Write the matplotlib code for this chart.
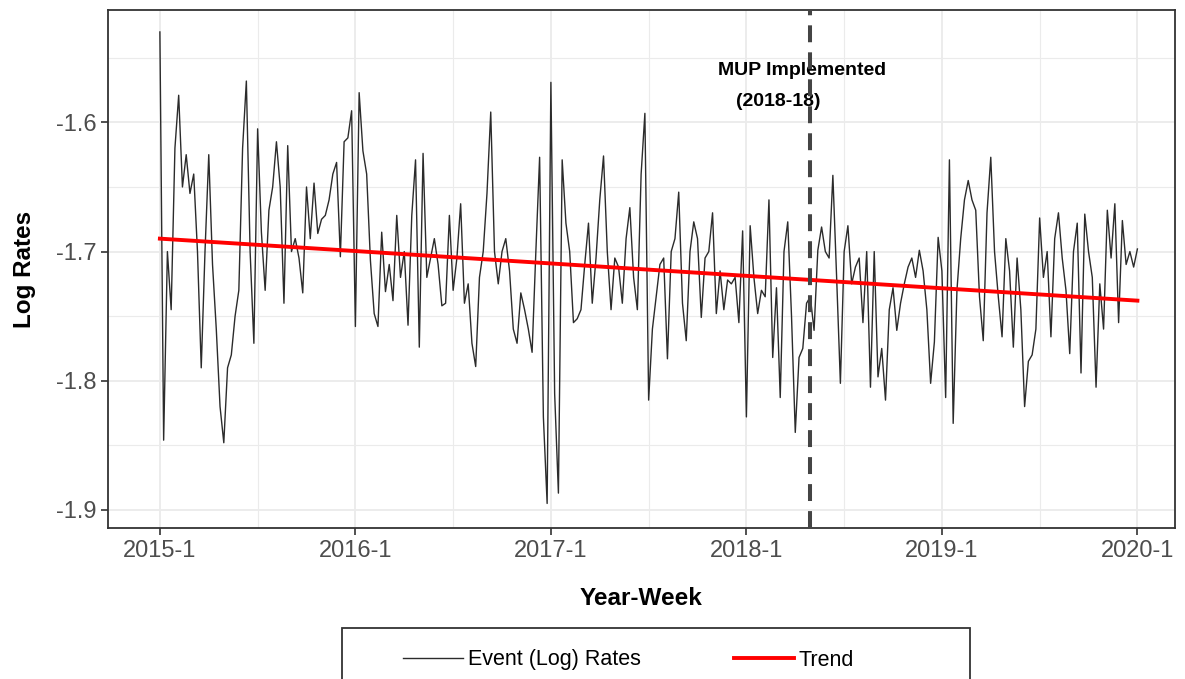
import matplotlib
matplotlib.use("Agg")
from matplotlib import pyplot as plt
from matplotlib.patches import Rectangle
import numpy as np

plt.rcParams['font.family'] = ['Liberation Sans', 'DejaVu Sans']
plt.rcParams['axes.unicode_minus'] = False

# weekly event log rates, 2015-1 .. 2020-1
rates_2015 = [
    -1.530, -1.846, -1.700, -1.745, -1.620, -1.579, -1.650, -1.625, -1.655, -1.640,
    -1.700, -1.790, -1.700, -1.625, -1.710, -1.760, -1.820, -1.848, -1.790, -1.780,
    -1.750, -1.730, -1.620, -1.568, -1.700, -1.771, -1.605, -1.685, -1.730, -1.668,
    -1.650, -1.615, -1.650, -1.740, -1.618, -1.700, -1.690, -1.705, -1.732, -1.650,
    -1.690, -1.647, -1.686, -1.675, -1.672, -1.660, -1.640, -1.631, -1.704, -1.615,
    -1.612, -1.591,
]
rates_2016 = [
    -1.758, -1.577, -1.622, -1.640, -1.707, -1.748, -1.758, -1.685, -1.731, -1.710,
    -1.738, -1.672, -1.720, -1.700, -1.757, -1.672, -1.629, -1.774, -1.624, -1.720,
    -1.705, -1.690, -1.710, -1.742, -1.740, -1.672, -1.730, -1.705, -1.663, -1.740,
    -1.725, -1.771, -1.789, -1.720, -1.700, -1.655, -1.592, -1.700, -1.725, -1.700,
    -1.690, -1.715, -1.760, -1.771, -1.732, -1.745, -1.760, -1.778, -1.700, -1.627,
    -1.828, -1.895,
]
rates_2017 = [
    -1.569, -1.810, -1.887, -1.629, -1.678, -1.700, -1.755, -1.752, -1.745, -1.710,
    -1.678, -1.740, -1.705, -1.660, -1.626, -1.700, -1.745, -1.705, -1.712, -1.740,
    -1.690, -1.666, -1.720, -1.745, -1.640, -1.593, -1.815, -1.760, -1.735, -1.710,
    -1.705, -1.783, -1.700, -1.690, -1.654, -1.740, -1.769, -1.700, -1.677, -1.690,
    -1.751, -1.705, -1.700, -1.670, -1.748, -1.715, -1.745, -1.722, -1.725, -1.720,
    -1.755, -1.684,
]
rates_2018 = [
    -1.828, -1.680, -1.720, -1.748, -1.730, -1.735, -1.660, -1.782, -1.728, -1.813,
    -1.700, -1.677, -1.750, -1.840, -1.782, -1.775, -1.740, -1.735, -1.761, -1.699,
    -1.681, -1.700, -1.705, -1.641, -1.720, -1.802, -1.700, -1.680, -1.725, -1.712,
    -1.705, -1.755, -1.700, -1.805, -1.700, -1.797, -1.775, -1.815, -1.745, -1.728,
    -1.761, -1.740, -1.725, -1.712, -1.705, -1.720, -1.699, -1.715, -1.745, -1.802,
    -1.770, -1.689,
]
rates_2019 = [
    -1.715, -1.813, -1.629, -1.833, -1.730, -1.690, -1.660, -1.645, -1.660, -1.668,
    -1.735, -1.769, -1.670, -1.627, -1.700, -1.735, -1.766, -1.690, -1.715, -1.774,
    -1.705, -1.745, -1.820, -1.785, -1.780, -1.760, -1.674, -1.720, -1.700, -1.766,
    -1.690, -1.670, -1.705, -1.730, -1.779, -1.700, -1.678, -1.794, -1.671, -1.700,
    -1.720, -1.805, -1.725, -1.760, -1.668, -1.705, -1.663, -1.755, -1.676, -1.710,
    -1.700, -1.712,
]
rates_2020 = [-1.698]
rates_end = [-1.718]

log_rates = rates_2015 + rates_2016 + rates_2017 + rates_2018 + rates_2019 + rates_2020 + rates_end
# keep 2015-1 .. 2020-1 (261 weeks)
log_rates = log_rates[:261]
weeks = np.arange(len(log_rates))

trend_weeks = [0, 260]
trend_values = [-1.690, -1.738]

tick_weeks = [0, 52, 104, 156, 208, 260]
tick_labels = ["2015-1", "2016-1", "2017-1", "2018-1", "2019-1", "2020-1"]
mup_week = 173  # 2018-18

W, H = 1185, 679
fig = plt.figure(figsize=(W / 100, H / 100), dpi=100)
ax = fig.add_axes([108 / W, 1 - 528 / H, (1175 - 108) / W, (528 - 10) / H])

line_rates, = ax.plot(weeks, log_rates, color="#2b2b2b", lw=1.0, zorder=3)
line_trend, = ax.plot(trend_weeks, trend_values, color="#ff0000", lw=2.8, zorder=4)
ax.axvline(mup_week, color="#444444", lw=2.9, linestyle=(0, (4.2, 2.5)), zorder=5)

ax.text(170.7, -1.560, "MUP Implemented", ha="center", va="center",
        fontsize=14, fontweight="bold")
ax.text(164.4, -1.584, "(2018-18)", ha="center", va="center",
        fontsize=14, fontweight="bold")

ax.set_xlim(-13.8, 270)
ax.set_ylim(-1.914, -1.513)

ax.set_xticks(tick_weeks)
ax.set_xticklabels(tick_labels)
ax.set_xticks([26, 78, 130, 182, 234], minor=True)
ax.set_yticks([-1.9, -1.8, -1.7, -1.6])
ax.set_yticks([-1.85, -1.75, -1.65, -1.55], minor=True)
ax.tick_params(axis="both", which="major", labelsize=17, labelcolor="#4d4d4d",
               color="#333333", length=5, width=1.2)
ax.tick_params(axis="both", which="minor", length=0)

ax.grid(True, which="major", color="#ebebeb", lw=1.3, zorder=0)
ax.grid(True, which="minor", color="#ebebeb", lw=0.8, zorder=0)
ax.set_axisbelow(True)
for s in ax.spines.values():
    s.set_color("#333333")
    s.set_linewidth(1.3)

ax.set_xlabel("Year-Week", fontsize=17.5, fontweight="bold", labelpad=18)
ax.set_ylabel("Log Rates", fontsize=17.5, fontweight="bold", labelpad=14)

# legend entries, with the box drawn separately (it runs off the bottom edge)
leg = fig.legend([line_rates, line_trend], ["Event (Log) Rates", "Trend"],
                 loc="center left", bbox_to_anchor=(403 / W, 1 - 660 / H), ncol=2,
                 fontsize=15.5, frameon=False, borderpad=0, borderaxespad=0,
                 handlelength=2.8, handletextpad=0.2, columnspacing=4.35)
leg.legend_handles[0].set_linewidth(1.0)
leg.legend_handles[1].set_linewidth(2.8)
fig.patches.append(Rectangle((342 / W, -0.05), (970 - 342) / W, 0.05 + 1 - 628 / H,
                             transform=fig.transFigure, fill=False,
                             edgecolor="#333333", lw=1.3))

fig.savefig("out.png", dpi=100)
